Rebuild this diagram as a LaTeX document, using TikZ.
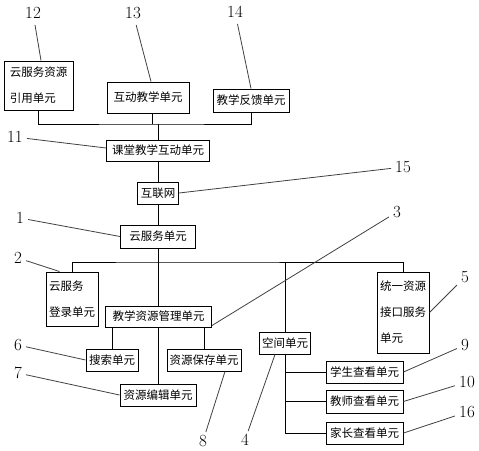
\documentclass[tikz,border=0pt]{standalone}
\usepackage{fontspec}
\newfontfamily\cjk{Noto Sans CJK SC}
\begin{document}
\begin{tikzpicture}[x=1pt,y=-1pt,
  box/.style={draw, line width=1pt, inner sep=0pt, font=\cjk\fontsize{11.5}{26}\selectfont, align=left},
  conn/.style={line width=0.9pt},
  lead/.style={line width=0.8pt, draw=black!75},
  lbl/.style={font=\fontsize{17}{17}\selectfont, inner xsep=4pt, inner ysep=6pt}]
\useasboundingbox (0,0) rectangle (479,450);
\coordinate (b1) at (158,124);
\coordinate (b2) at (158,262);
% boxes
\node[box,minimum width=69pt,minimum height=49pt] (n12) at (38.5,85.5) {云服务资源\\引用单元};
\node[box,minimum width=82pt,minimum height=31pt] (n13) at (148,97.5) {互动教学单元};
\node[box,minimum width=76pt,minimum height=23pt] (n14) at (251,100.5) {教学反馈单元};
\node[box,minimum width=103pt,minimum height=21pt] (n11) at (158,150.5) {课堂教学互动单元};
\node[box,minimum width=41pt,minimum height=22pt] (n15) at (158,193) {互联网};
\node[box,minimum width=75pt,minimum height=23pt] (n1) at (158,236.5) {云服务单元};
\node[box,minimum width=52pt,minimum height=54pt] (n2) at (72,299) {云服务\\登录单元};
\node[box,minimum width=52pt,minimum height=81pt] (n5) at (403,312.5) {统一资源\\接口服务\\单元};
\node[box,minimum width=106pt,minimum height=21pt] (n3) at (158.5,316.5) {教学资源管理单元};
\node[box,minimum width=52pt,minimum height=22pt] (n6) at (112,360) {搜索单元};
\node[box,minimum width=74pt,minimum height=22pt] (n8) at (204,360) {资源保存单元};
\node[box,minimum width=76pt,minimum height=22pt] (n7) at (158,395) {资源编辑单元};
\node[box,minimum width=51pt,minimum height=22pt] (n4) at (285,343) {空间单元};
\node[box,minimum width=77pt,minimum height=22pt] (n9) at (364.5,372) {学生查看单元};
\node[box,minimum width=77pt,minimum height=23pt] (n10) at (364.5,401.5) {教师查看单元};
\node[box,minimum width=77pt,minimum height=22pt] (n16) at (364.5,433) {家长查看单元};
% connectors
\coordinate (d13) at ([xshift=4pt]n13.south);
\draw[conn] (n12.south) |- (b1) -| (n14.south);
\draw[conn] (d13) -- (d13 |- b1);
\draw[conn] (b1) -- (b1 |- n11.north);
\draw[conn] (n11.south) -- (n11.south |- n15.north);
\draw[conn] (n15.south) -- (n15.south |- n1.north);
\draw[conn] (n1.south) -- (n1.south |- n3.north);
\draw[conn] (n2.north) |- (b2) -| (n5.north);
\draw[conn] (n4.north) -- (n4.north |- b2);
\draw[conn] (n7.north |- n3.south) -- (n7.north);
\draw[conn] (n6.north) -- (n6.north |- n3.south);
\draw[conn] (n8.north) -- (n8.north |- n3.south);
\draw[conn] (n4.south) |- (n16.west);
\draw[conn] (n4.south |- n9.west) -- (n9.west);
\draw[conn] (n4.south |- n10.west) -- (n10.west);
% labels
\node[lbl] (L12) at (33,13) {12};
\node[lbl] (L13) at (133,13) {13};
\node[lbl] (L14) at (235,12) {14};
\node[lbl] (L11) at (15,137) {11};
\node[lbl] (L15) at (403,167) {15};
\node[lbl] (L1) at (20,218) {1};
\node[lbl] (L2) at (18,258) {2};
\node[lbl] (L3) at (397,212) {3};
\node[lbl] (L5) at (465,277) {5};
\node[lbl] (L6) at (18,345) {6};
\node[lbl] (L7) at (18,373) {7};
\node[lbl,inner ysep=3pt] (L8) at (203,441) {8};
\node[lbl,inner ysep=3pt] (L4) at (245,440) {4};
\node[lbl] (L9) at (465,345) {9};
\node[lbl] (L10) at (467,382) {10};
\node[lbl] (L16) at (467,412) {16};
\draw[lead] (L12) -- ([xshift=2.5pt]n12.north);
\draw[lead] (L13) -- ([xshift=3pt]n13.north);
\draw[lead] (L14) -- (n14.north);
\draw[lead] (L11) -- ([yshift=2.5pt]n11.west);
\draw[lead] (L15) -- (n15.east);
\draw[lead] (L1) -- (n1.west);
\draw[lead] (L2) -- ([xshift=14pt]n2.north west);
\draw[lead] (L3) -- ([yshift=2pt]n3.south east);
\draw[lead] (L5) -- (n5.east);
\draw[lead] (L6) -- (n6.west);
\draw[lead] (L7) -- (n7.west);
\draw[lead] (L8) -- ([xshift=21pt]n8.south);
\draw[lead] (L4) -- ([xshift=-10pt]n4.south);
\draw[lead] (L9) -- (n9.east);
\draw[lead] (L10) -- (n10.east);
\draw[lead] (L16) -- (n16.east);
\end{tikzpicture}
\end{document}
